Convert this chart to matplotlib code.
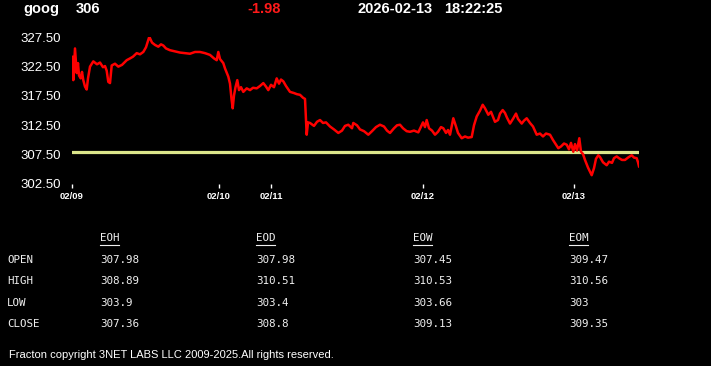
import matplotlib
matplotlib.use("Agg")
import matplotlib.pyplot as plt
from matplotlib.lines import Line2D

# header info
symbol = "goog"
last_price = "306"
change = "-1.98"
stamp_date = "2026-02-13"
stamp_time = "18:22:25"

# intraday series (bar index, price)
bar_idx = [0, 0.7, 1.3, 3, 4.7, 6, 7, 8.7, 10, 11.3, 13, 14.7, 16, 18, 21.3, 25, 28, 31, 33,
           34.7, 36.3, 38, 39.7, 43, 46.3, 50, 54.7, 58, 61, 64.7, 68, 71.3, 74, 77.3, 80, 83,
           86.3, 89, 91.3, 94, 98, 103, 108, 113, 118, 123, 128, 133, 138, 142, 144.7, 146.3,
           148, 151.3, 153, 156.3, 158, 159.5, 160.7, 162, 163.5, 165.3, 167, 169, 171.3,
           174.7, 178, 181, 184.7, 188, 191.3, 194, 196.3, 199, 202, 204.7, 207, 209, 211.3,
           214, 218, 222, 225, 228, 231, 233, 234.7, 236, 238, 242, 245, 248, 251, 254, 258,
           262, 266.3, 270, 273, 276.3, 280, 281.3, 285, 288, 292, 296.3, 300, 304, 308, 312,
           315, 318, 322, 325, 328, 331, 334.7, 338, 342, 346.3, 349, 351, 353, 354.7, 357,
           360, 363, 366, 369, 371.3, 374, 376, 378, 381.3, 384, 386, 389.7, 393, 396, 399.7,
           402, 404.7, 408, 410.7, 413, 416.3, 419, 423, 426, 428, 430.7, 433, 435, 438, 441,
           444, 446, 449.7, 452, 454.7, 458, 461, 464.7, 468, 471, 474, 478, 481, 484, 486.3,
           489, 492, 494.7, 497, 499, 501.3, 503, 505, 507.3, 509, 511, 513, 516, 519.7, 522,
           524, 526.3, 528, 531, 534.7, 537, 540, 542, 544.7, 547, 550, 553, 556, 559.7, 562,
           564.7, 566, 567]
price = [321.8, 324.2, 320.2, 325.6, 321.4, 323.1, 321.0, 320.5, 321.6, 320.2, 319.1, 318.6,
         320.5, 322.5, 323.4, 322.9, 323.2, 322.4, 322.6, 321.8, 319.9, 319.7, 322.7, 323.0,
         322.5, 322.8, 323.6, 323.9, 324.2, 324.8, 324.6, 325.0, 325.8, 327.6, 326.6, 326.2,
         325.9, 326.3, 326.1, 325.6, 325.3, 325.1, 324.9, 324.8, 324.7, 325.0, 325.0, 324.8,
         324.5, 323.9, 323.6, 325.0, 323.8, 323.1, 322.2, 320.8, 319.6, 317.0, 315.4, 317.6,
         319.0, 320.2, 318.5, 319.0, 318.2, 318.8, 318.5, 318.9, 318.8, 319.2, 319.7, 319.1,
         318.5, 319.4, 319.0, 320.5, 319.6, 320.3, 320.0, 319.2, 318.2, 318.0, 317.8, 317.7,
         317.2, 317.0, 310.9, 313.0, 312.9, 312.4, 313.1, 313.4, 312.9, 313.0, 312.3, 311.8,
         311.2, 311.6, 312.4, 312.6, 312.0, 312.9, 312.5, 311.8, 311.5, 310.9, 311.5, 312.2,
         312.6, 312.3, 311.6, 311.2, 312.0, 312.5, 312.6, 312.0, 311.5, 311.4, 311.6, 311.3,
         312.3, 313.0, 312.2, 313.4, 312.0, 311.6, 310.9, 311.4, 312.2, 312.0, 311.2, 311.7,
         310.9, 313.7, 312.3, 311.2, 310.3, 310.6, 310.4, 310.5, 312.5, 314.0, 315.0, 316.0,
         315.4, 314.3, 314.8, 313.1, 313.4, 314.5, 315.1, 314.6, 313.8, 312.8, 313.6, 314.5,
         313.6, 312.8, 313.3, 313.7, 312.9, 312.3, 310.9, 311.1, 310.6, 311.1, 310.9, 310.0,
         309.2, 308.6, 308.9, 309.4, 309.2, 308.4, 309.5, 308.0, 309.3, 308.2, 310.3, 308.0,
         307.6, 306.6, 305.3, 304.0, 305.2, 306.8, 307.4, 307.1, 306.2, 305.7, 306.3, 306.1,
         306.9, 307.2, 306.9, 306.6, 306.6, 307.0, 307.4, 307.0, 306.9, 306.2, 305.5]
ref_level = 307.9

day_pos = [0, 147, 199, 351, 502]
day_labels = ["02/09", "02/10", "02/11", "02/12", "02/13"]
y_ticks = [302.5, 307.5, 312.5, 317.5, 322.5, 327.5]

# summary table
col_names = ["EOH", "EOD", "EOW", "EOM"]
row_names = ["OPEN", "HIGH", "LOW", "CLOSE"]
table_vals = [["307.98", "307.98", "307.45", "309.47"],
              ["308.89", "310.51", "310.53", "310.56"],
              ["303.9", "303.4", "303.66", "303"],
              ["307.36", "308.8", "309.13", "309.35"]]

W, H = 711, 366
fig = plt.figure(figsize=(W / 100, H / 100), dpi=100, facecolor="black")

def fx(x):
    return x / W

def fy(y):
    return 1 - y / H

ax = fig.add_axes([fx(72), fy(184), 567 / W, 146.7 / H], facecolor="black")
ax.plot([0, bar_idx[-1]], [ref_level, ref_level], color="#dbe58a", lw=2.3, zorder=1)
ax.plot(bar_idx, price, color="#ff0000", lw=1.8, zorder=2)
ax.set_xlim(0, 567)
ax.set_ylim(302.5, 327.5)
for s in ax.spines.values():
    s.set_visible(False)
ax.set_yticks(y_ticks)
ax.set_yticklabels([f"{v:.2f}" for v in y_ticks], color="white",
                   fontsize=9.5, family="Liberation Sans")
ax.tick_params(axis="y", length=0, pad=8)
ax.set_xticks(day_pos)
ax.set_xticklabels(day_labels, color="white", fontsize=6.8, fontweight="bold",
                   family="Liberation Sans")
ax.tick_params(axis="x", length=3, width=1, color="white", pad=3)

# header line
hdr = dict(color="white", fontsize=10.5, fontweight="bold", family="Liberation Sans", va="center")
fig.text(fx(23), fy(9), symbol, **hdr)
fig.text(fx(76), fy(9), last_price, **hdr)
fig.text(fx(247), fy(9), change, **{**hdr, "color": "#ff1a1a"})
fig.text(fx(358), fy(9), stamp_date, **hdr)
fig.text(fx(444), fy(9), stamp_time, **hdr)

# table
mono = dict(color="#f0f0f0", fontsize=7.8, family="DejaVu Sans Mono", va="center")
col_x = [100, 256, 413, 569]
row_y = [260, 281, 303, 324]
for cx, name in zip(col_x, col_names):
    fig.text(fx(cx), fy(238), name, **mono)
    fig.add_artist(Line2D([fx(cx), fx(cx + 19)], [fy(245), fy(245)],
                          transform=fig.transFigure, color="#f0f0f0", lw=0.8))
for ry, rname, vals in zip(row_y, row_names, table_vals):
    fig.text(fx(7), fy(ry), rname, **mono)
    for cx, v in zip(col_x, vals):
        fig.text(fx(cx), fy(ry), v, **mono)

fig.text(fx(9), fy(355), "Fracton copyright 3NET LABS LLC 2009-2025.All rights reserved.",
         color="white", fontsize=8, family="Liberation Sans", va="center")

fig.savefig("out.png", dpi=100, facecolor="black")
